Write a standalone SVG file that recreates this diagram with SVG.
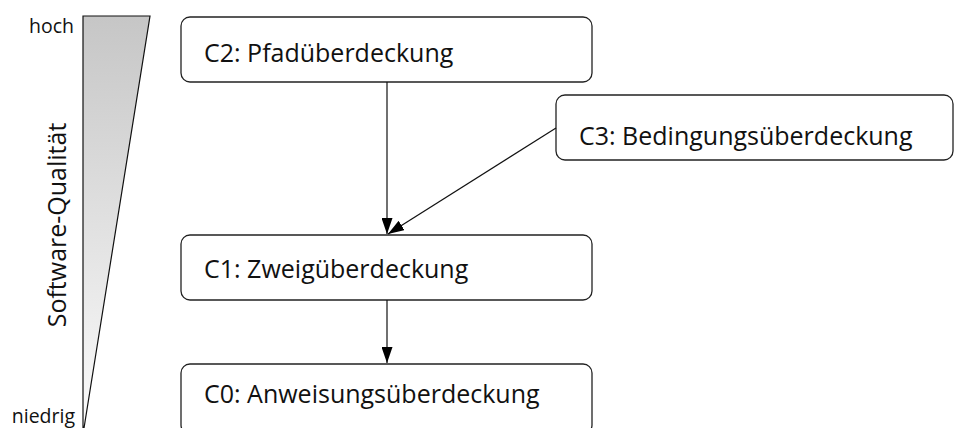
<svg xmlns="http://www.w3.org/2000/svg" width="955" height="428" viewBox="0 0 955 428">
<defs>
<linearGradient id="g" x1="0" y1="0" x2="0" y2="1">
<stop offset="0" stop-color="#c6c6c6"/>
<stop offset="1" stop-color="#fbfbfb"/>
</linearGradient>
<marker id="ah" viewBox="0 0 16 11" refX="16" refY="5.5" markerWidth="16" markerHeight="11" markerUnits="userSpaceOnUse" orient="auto">
<path d="M0,0 L16,5.5 L0,11 Z" fill="#000"/>
</marker>
<style>
.box{fill:#fff;stroke:#222;stroke-width:1.3}
.t{font-family:"Open Sans","Noto Sans",sans-serif;font-size:25px;fill:#111}
.s{font-family:"Open Sans","Noto Sans",sans-serif;font-size:19.5px;fill:#111}
.c{stroke:#111;stroke-width:1.2;fill:none;marker-end:url(#ah)}
</style>
</defs>
<g id="scale">
<polygon points="83,16 150,16 84,428 83,428" fill="url(#g)" stroke="#111" stroke-width="1.2"/>
<text class="s" x="74" y="33" text-anchor="end">hoch</text>
<text class="s" x="75" y="423" text-anchor="end">niedrig</text>
<text class="t" transform="translate(66,225) rotate(-90)" text-anchor="middle">Software-Qualität</text>
</g>
<g id="c2">
<rect class="box" x="181" y="17" width="411" height="65" rx="9"/>
<text class="t" x="204" y="62">C2: Pfadüberdeckung</text>
</g>
<g id="c3">
<rect class="box" x="556" y="95" width="397" height="65" rx="9"/>
<text class="t" x="579" y="145">C3: Bedingungsüberdeckung</text>
</g>
<g id="c1">
<rect class="box" x="181" y="235" width="411" height="65" rx="9"/>
<text class="t" x="204" y="278">C1: Zweigüberdeckung</text>
</g>
<g id="c0">
<rect class="box" x="181" y="364" width="411" height="70" rx="9"/>
<text class="t" x="204" y="403">C0: Anweisungsüberdeckung</text>
</g>
<g id="connectors">
<line class="c" x1="387" y1="82" x2="387" y2="234"/>
<line class="c" x1="556" y1="128" x2="388" y2="234"/>
<line class="c" x1="387" y1="300" x2="387" y2="363"/>
</g>
</svg>
